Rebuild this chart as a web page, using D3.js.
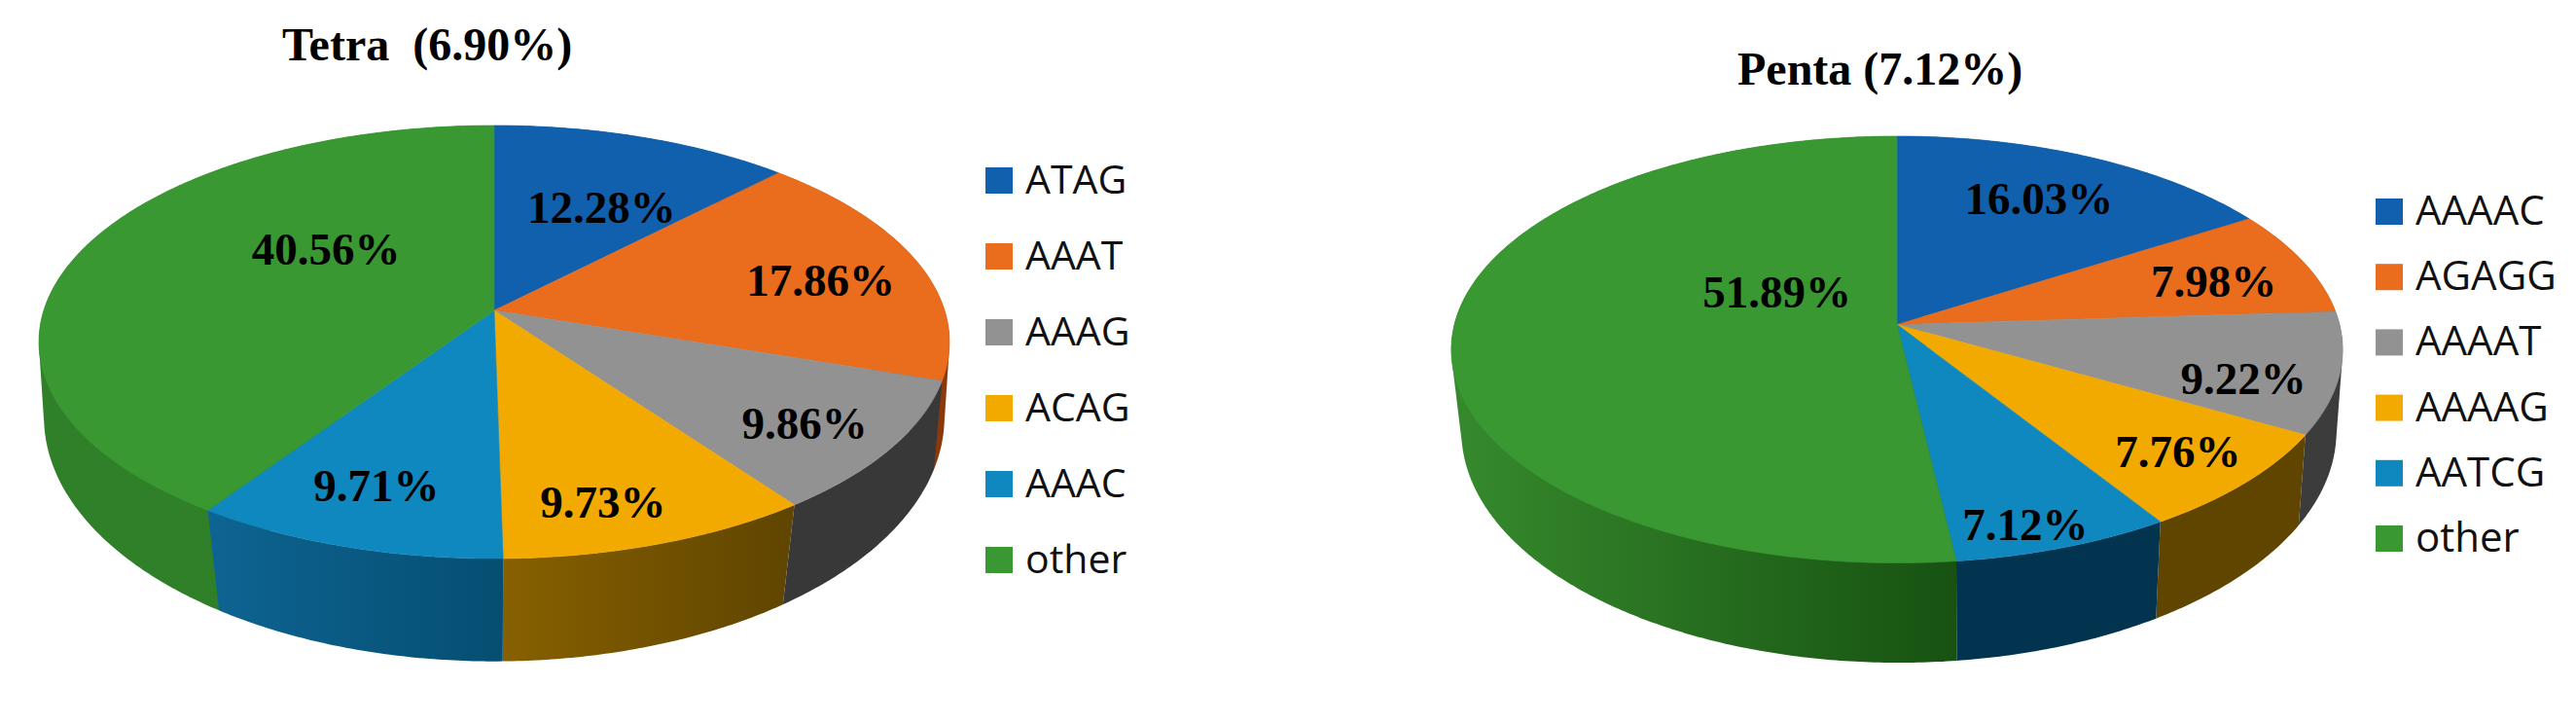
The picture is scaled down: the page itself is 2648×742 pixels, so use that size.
<!DOCTYPE html>
<html>
<head>
<meta charset="utf-8">
<script src="https://d3js.org/d3.v7.min.js"></script>
<style>
  html, body { margin: 0; padding: 0; background: #fff; }
  svg { display: block; }
  .title { font-family: "Liberation Serif", serif; font-weight: bold; font-size: 48px; fill: #000; white-space: pre; }
  .label { font-family: "Liberation Serif", serif; font-weight: bold; font-size: 47px; fill: #000; text-anchor: middle; }
  .legend text { font-family: "Open Sans", sans-serif; font-size: 41px; fill: #111; }
  .penta .legend text { font-size: 42px; }
</style>
</head>
<body>
<script>
// values
var tetraCategories = ["ATAG", "AAAT", "AAAG", "ACAG", "AAAC", "other"];
var tetraValues = [12.28, 17.86, 9.86, 9.73, 9.71, 40.56];
var pentaCategories = ["AAAAC", "AGAGG", "AAAAT", "AAAAG", "AATCG", "other"];
var pentaValues = [16.03, 7.98, 9.22, 7.76, 7.12, 51.89];

var colors = ["#1060ae", "#ea6c1d", "#929292", "#f3aa00", "#0e88bf", "#399832"];

var width = 2648, height = 742;

// layout of each pie: top/bot are the perspective rims of the disc
var tetraLayout = {
    id: "tetra", title: "Tetra  (6.90%)", titleX: 290, titleY: 61.5,
    top: {cx: 508, cy: 319, a: 463, b: 217.8, c: 0.146},
    bot: {cx: 508, cy: 401, a: 460, b: 248, c: 0.11},
    wallFrom: ["#0d4f8c", "#8a3a0a", "#383838", "#876000", "#0e6492", "#307f29"],
    wallTo: ["#0d4f8c", "#8a3a0a", "#383838", "#5f4500", "#054e72", "#2f7f28"],
    labelDx: [-1, 28, 41, -2, -19, 128],
    labelDy: [39.5, 20, 36, 53, 34, -4],
    legendX: 1013, legendY: [172, 562]
};
var pentaLayout = {
    id: "penta", title: "Penta (7.12%)", titleX: 1786, titleY: 86.6,
    top: {cx: 1950, cy: 333.6, a: 455, b: 216.3, c: 0.117},
    bot: {cx: 1952, cy: 417, a: 447, b: 235, c: 0.11},
    wallFrom: ["#0d4f8c", "#8a3a0a", "#3c3c3c", "#5f4500", "#03344f", "#368a2d"],
    wallTo: ["#0d4f8c", "#8a3a0a", "#3c3c3c", "#5f4500", "#03344f", "#175212"],
    labelDx: [2.5, 30, 40, 44.5, 16, 196],
    labelDy: [10, 17, 37, 36, 67, -26.5],
    legendX: 2442, legendY: [204, 540]
};

var svg = d3.select("body").append("svg")
    .attr("width", width)
    .attr("height", height);

var defs = svg.append("defs");
var pie = d3.pie().sort(null);
var line = d3.line();

// circle point (angle clockwise from 12 o'clock, radius 0-1) to the screen
function project(rim, angle, r) {
    var u = Math.sin(angle) * r,
        v = -Math.cos(angle) * r,
        w = 1 - rim.c * v;
    return [rim.cx + rim.a * u / w, rim.cy + rim.b * v / w];
}

function rimPoints(rim, start, end) {
    var n = Math.max(2, Math.ceil((end - start) / 0.01));
    return d3.range(n + 1).map(function(i) {
        return project(rim, start + (end - start) * i / n, 1);
    });
}

// does this slice hold the left or right edge of the disc?
function onSilhouette(d) {
    return [Math.PI / 2, Math.PI * 1.5].some(function(a) {
        return d.startAngle <= a && a <= d.endAngle;
    });
}

function drawPie(categories, values, layout) {
    var arcs = pie(values);
    var g = svg.append("g").attr("class", layout.id);

    arcs.forEach(function(d, i) {
        d.index = i;
        var grad = defs.append("linearGradient").attr("id", layout.id + "-wall-" + i);
        grad.append("stop").attr("offset", "0%").attr("stop-color", layout.wallFrom[i]);
        grad.append("stop").attr("offset", "100%").attr("stop-color", layout.wallTo[i]);
    });

    // side walls first, the top face covers whatever is behind it.
    // edge slices use the hull so the wall runs straight down from the widest point
    var wallOrder = arcs.slice().sort(function(a, b) {
        return d3.descending(onSilhouette(a), onSilhouette(b));
    });
    g.selectAll("path.wall")
        .data(wallOrder)
        .enter()
        .append("path")
        .attr("class", "wall")
        .attr("d", function(d) {
            var topRim = rimPoints(layout.top, d.startAngle, d.endAngle);
            var botRim = rimPoints(layout.bot, d.startAngle, d.endAngle).reverse();
            var pts = topRim.concat(botRim);
            return line(onSilhouette(d) ? d3.polygonHull(pts) : pts) + "Z";
        })
        .attr("fill", function(d) { return "url(#" + layout.id + "-wall-" + d.index + ")"; });

    g.selectAll("path.slice")
        .data(arcs)
        .enter()
        .append("path")
        .attr("class", "slice")
        .attr("d", function(d) {
            var centre = project(layout.top, 0, 0);
            return line([centre].concat(rimPoints(layout.top, d.startAngle, d.endAngle))) + "Z";
        })
        .attr("fill", function(d, i) { return colors[i]; })
        .attr("stroke", function(d, i) { return colors[i]; })
        .attr("stroke-width", 0.6);

    g.selectAll("text.label")
        .data(arcs)
        .enter()
        .append("text")
        .attr("class", "label")
        .attr("x", function(d, i) {
            return project(layout.top, (d.startAngle + d.endAngle) / 2, 0.7)[0] + layout.labelDx[i];
        })
        .attr("y", function(d, i) {
            return project(layout.top, (d.startAngle + d.endAngle) / 2, 0.7)[1] + layout.labelDy[i];
        })
        .text(function(d) { return d.value.toFixed(2) + "%"; });

    g.append("text")
        .attr("class", "title")
        .attr("x", layout.titleX)
        .attr("y", layout.titleY)
        .text(layout.title);

    // legend
    var yScale = d3.scalePoint().domain(categories).range(layout.legendY);
    var legend = g.append("g").attr("class", "legend");
    var rows = legend.selectAll("g")
        .data(categories)
        .enter()
        .append("g")
        .attr("transform", function(d) { return "translate(" + layout.legendX + "," + yScale(d) + ")"; });
    rows.append("rect")
        .attr("width", 28)
        .attr("height", 27)
        .attr("fill", function(d, i) { return colors[i]; });
    rows.append("text")
        .attr("x", 41)
        .attr("y", 27)
        .text(function(d) { return d; });
}

drawPie(tetraCategories, tetraValues, tetraLayout);
drawPie(pentaCategories, pentaValues, pentaLayout);
</script>
</body>
</html>
